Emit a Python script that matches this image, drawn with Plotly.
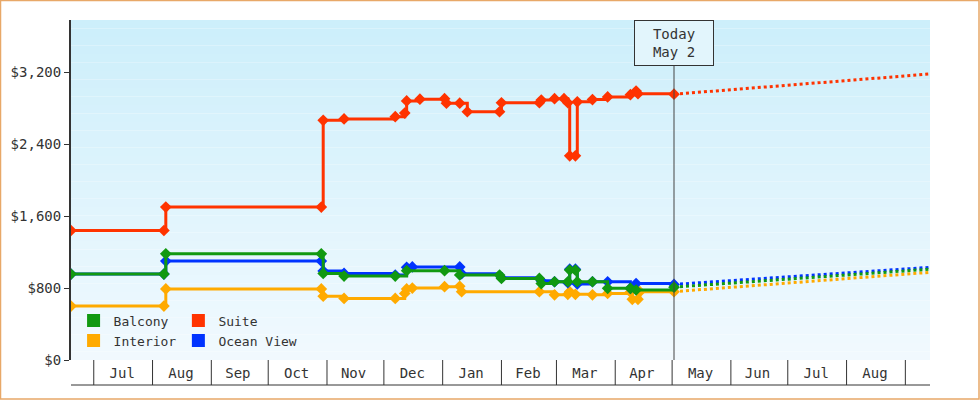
import plotly.graph_objects as go

suite_dates = ["2023-06-19","2023-08-07","2023-08-08","2023-10-29","2023-10-30","2023-11-10","2023-12-07","2023-12-12","2023-12-13","2023-12-20","2024-01-02","2024-01-03","2024-01-10","2024-01-14","2024-01-31","2024-02-01","2024-02-21","2024-02-22","2024-02-29","2024-03-05","2024-03-07","2024-03-08","2024-03-11","2024-03-12","2024-03-20","2024-03-28","2024-04-09","2024-04-12","2024-04-13","2024-05-02"]
suite_vals = [1440,1440,1700,1700,2665,2680,2705,2745,2880,2900,2905,2855,2855,2760,2760,2860,2860,2890,2905,2905,2860,2270,2270,2870,2895,2925,2950,2990,2960,2955]

bal_dates = ["2023-06-19","2023-08-07","2023-08-08","2023-10-29","2023-10-30","2023-11-10","2023-12-07","2023-12-13","2024-01-02","2024-01-10","2024-01-31","2024-02-01","2024-02-21","2024-02-22","2024-02-29","2024-03-07","2024-03-08","2024-03-11","2024-03-12","2024-03-20","2024-03-28","2024-04-09","2024-04-12","2024-05-02"]
bal_vals = [955,955,1180,1180,963,933,933,993,993,945,945,907,907,850,870,870,1000,1000,870,870,797,797,778,810]

ocean_dates = ["2023-06-19","2023-08-07","2023-08-08","2023-10-29","2023-10-30","2023-11-10","2023-12-07","2023-12-13","2023-12-16","2024-01-10","2024-01-11","2024-02-01","2024-02-22","2024-02-29","2024-03-07","2024-03-08","2024-03-11","2024-03-12","2024-03-20","2024-03-28","2024-04-09","2024-04-12","2024-05-02"]
ocean_vals = [955,955,1100,1100,990,963,945,1030,1035,1035,960,915,880,870,860,1010,1010,845,870,870,797,850,840]

int_dates = ["2023-06-19","2023-08-07","2023-08-08","2023-10-29","2023-10-30","2023-11-10","2023-12-07","2023-12-12","2023-12-13","2023-12-16","2024-01-02","2024-01-10","2024-01-11","2024-02-21","2024-02-29","2024-03-07","2024-03-08","2024-03-11","2024-03-20","2024-03-28","2024-04-09","2024-04-10","2024-04-13","2024-04-14","2024-05-02"]
int_vals = [600,600,790,790,710,685,685,740,790,800,815,820,760,760,725,730,760,730,725,740,755,675,675,760,760]

proj_dates = ["2024-05-02","2024-09-14"]
proj_suite = [2955,3180]
proj_bal = [810,1010]
proj_ocean = [840,1030]
proj_int = [760,975]

month_labels = ["Jul","Aug","Sep","Oct","Nov","Dec","Jan","Feb","Mar","Apr","May","Jun","Jul","Aug"]
month_mid = ["2023-07-16","2023-08-16","2023-09-15","2023-10-16","2023-11-15","2023-12-16","2024-01-16","2024-02-15","2024-03-16","2024-04-15","2024-05-16","2024-06-15","2024-07-16","2024-08-16"]
month_starts = ["2023-07-01","2023-08-01","2023-09-01","2023-10-01","2023-11-01","2023-12-01","2024-01-01","2024-02-01","2024-03-01","2024-04-01","2024-05-01","2024-06-01","2024-07-01","2024-08-01","2024-09-01"]

C = {"Balcony":"#119911","Suite":"#ff3300","Interior":"#ffaa00","Ocean View":"#0033ff"}
FONT = "DejaVu Sans Mono"

fig = go.Figure()
series = [("Interior",int_dates,int_vals,proj_int),("Ocean View",ocean_dates,ocean_vals,proj_ocean),
          ("Balcony",bal_dates,bal_vals,proj_bal),("Suite",suite_dates,suite_vals,proj_suite)]
for name,d,v,p in series:
    fig.add_trace(go.Scatter(x=d,y=v,mode="lines+markers",line=dict(color=C[name],width=3,shape="hv"),
                             marker=dict(symbol="diamond",size=9,color=C[name]),showlegend=False,hoverinfo="skip"))
    fig.add_trace(go.Scatter(x=proj_dates,y=p,mode="lines",line=dict(color=C[name],width=3,dash="dot"),showlegend=False))
for name,lg in [("Balcony","legend"),("Interior","legend"),("Suite","legend2"),("Ocean View","legend2")]:
    fig.add_trace(go.Scatter(x=[None],y=[None],mode="markers",name=name,legend=lg,
                             marker=dict(symbol="square",size=13,color=C[name])))

W,H,L,R,T,B = 980,400,71,50,20,40
pw, ph = W-L-R, H-T-B
shapes = []
n=40
for i in range(n):
    t=i/n
    r=int(0xcd+(0xf2-0xcd)*t); g=int(0xef+(0xfa-0xef)*t); b=int(0xfb+(0xff-0xfb)*t)
    shapes.append(dict(type="rect",xref="paper",yref="paper",x0=0,x1=1,y0=1-(i+1)/n,y1=1-i/n,
                       fillcolor=f"rgb({r},{g},{b})",line=dict(width=0),layer="below"))
for ms in month_starts:
    shapes.append(dict(type="line",xref="x",yref="paper",x0=ms,x1=ms,y0=-25/ph,y1=0,line=dict(color="#333",width=1)))
shapes.append(dict(type="line",xref="paper",yref="paper",x0=0,x1=1,y0=-25/ph,y1=-25/ph,line=dict(color="#333",width=1)))
shapes.append(dict(type="line",xref="x",yref="paper",x0="2024-05-02",x1="2024-05-02",y0=0,y1=1,line=dict(color="#444",width=1)))
shapes.append(dict(type="rect",xref="paper",yref="paper",x0=(0.5-L)/pw,x1=(W-L-1)/pw,y0=-(B-1)/ph,y1=(ph+T-0.5)/ph,
                   line=dict(color="#e8a868",width=1.5)))

legbase = dict(orientation="v",yanchor="top",bgcolor="rgba(0,0,0,0)",font=dict(size=13),itemwidth=30,tracegroupgap=0)
fig.update_layout(
    width=W,height=H,margin=dict(l=L,r=R,t=T,b=B,autoexpand=False),paper_bgcolor="white",plot_bgcolor="rgba(0,0,0,0)",
    font=dict(family=FONT,size=14,color="#333"),shapes=shapes,
    xaxis=dict(range=["2023-06-19","2024-09-14"],tickvals=month_mid,ticktext=month_labels,ticks="",automargin=False,
               showgrid=False,zeroline=False,showline=False,ticklabelstandoff=3),
    yaxis=dict(range=[0,3780],tickvals=[0,800,1600,2400,3200],ticktext=["$0","$800","$1,600","$2,400","$3,200"],
               ticks="outside",ticklen=5,tickcolor="#333",showline=True,linecolor="#333",linewidth=2,automargin=False,
               showgrid=False,zeroline=False),
    legend=dict(x=0.003,y=0.16,xanchor="left",**legbase),
    legend2=dict(x=0.125,y=0.16,xanchor="left",**legbase),
    annotations=[dict(x="2024-05-02",xref="x",y=1,yref="paper",yanchor="top",text="Today<br>May 2",showarrow=False,
                      bgcolor="#e2f5fc",bordercolor="#333",borderwidth=1,borderpad=5,width=68,font=dict(size=14))],
)
fig.write_html("out.html", config={"displayModeBar": False},
               post_script="document.body.style.margin='0';document.body.style.padding='0';")
